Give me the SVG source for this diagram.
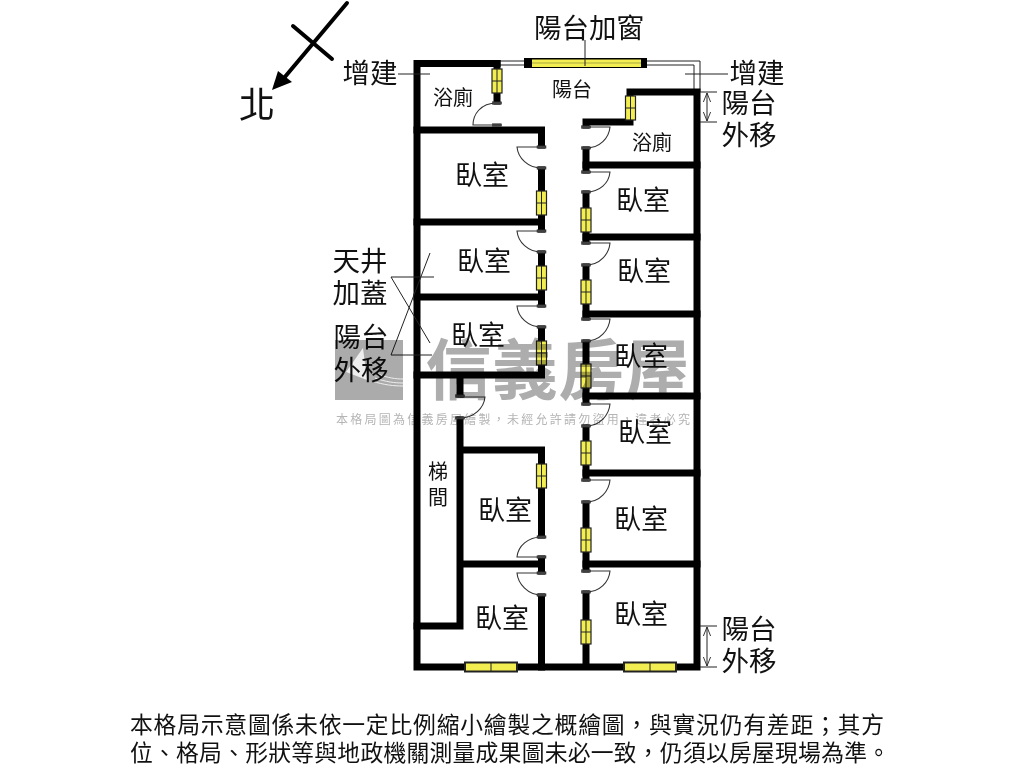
<svg xmlns="http://www.w3.org/2000/svg" width="1024" height="768" viewBox="0 0 1024 768">
<style>
text{font-family:"Noto Sans CJK TC","Liberation Sans",sans-serif;fill:#111;text-anchor:middle}
.w{fill:none;stroke:#000;stroke-width:7;stroke-linecap:square}
.th{fill:none;stroke:#222;stroke-width:1}
.win{fill:#f2ee52;stroke:#222;stroke-width:1.200}
.arc{fill:none;stroke:#333;stroke-width:1.100}
.j{fill:#444;stroke:#222;stroke-width:.5}
.l{font-size:27px}
.s{font-size:20px}
.a{font-size:27.500px}
.wm{mix-blend-mode:multiply}
</style>
<defs>
<g id="vw"><rect class="win" x="-5" y="0" width="10" height="24"/><path class="th" d="M0 0V24M-5 12H5"/></g>
<g id="hw"><rect class="win" style="stroke-width:2" x="0" y="-4.500" width="52" height="9"/><path class="th" d="M26 -4.500V4.500"/></g>
<rect id="jb" class="j" x="-4.500" y="-1.200" width="9" height="2.400"/>
<marker id="oa" viewBox="0 0 10 10" refX="10" refY="5" markerWidth="9" markerHeight="9" orient="auto-start-reverse"><path d="M0 1L10 5L0 9" fill="none" stroke="#222" stroke-width="1"/></marker>
</defs>
<rect width="1024" height="768" fill="#fff"/>
<g id="balcony-rail" class="th">
<path d="M500 61H524M647 61H700V92M500 65H524M647 65H694V92"/>
</g>
<g id="walls">
<path class="w" d="M497 63.500H417V667H697V92H630V122H586V125M586 150V170M586 194V241M586 267V317M586 343V402M586 428V478M586 504V569M586 594V667"/>
<path class="w" d="M497 63.500V101M417 130H541.500V145M541.500 170V229M417 222H541.500M541.500 254V304M417 297H541.500M541.500 329V375H417M460 375V394M460 420V626H417M460 450H541.500V535M460 564H541.500M541.500 559V571M541.500 597V667M586 165H697M586 237H697M586 314H697M586 396H697M586 473H697M586 564H697"/>
</g>
<g id="windows">
<rect x="524" y="58" width="123" height="10" fill="#000"/>
<rect x="532" y="59.500" width="109" height="7.500" fill="#f2ee52"/>
<path class="th" d="M532 63H641" stroke-opacity=".35"/>
<use href="#vw" x="497" y="69"/>
<use href="#vw" x="630.500" y="96"/>
<use href="#vw" x="541.500" y="191"/>
<use href="#vw" x="541.500" y="266"/>
<use href="#vw" x="541.500" y="341"/>
<use href="#vw" x="541.500" y="464"/>
<use href="#vw" x="586" y="208"/>
<use href="#vw" x="586" y="280"/>
<use href="#vw" x="586" y="364"/>
<use href="#vw" x="586" y="441"/>
<use href="#vw" x="586" y="528"/>
<use href="#vw" x="586" y="620"/>
<use href="#hw" x="465" y="667"/>
<use href="#hw" x="624" y="667"/>
</g>
<g id="doors">
<path class="arc" d="M497 103C480 103 473 115 473 125H497"/>
<use href="#jb" x="497" y="103"/><use href="#jb" x="497" y="125"/>
<path class="arc" d="M541.500 147H517C518 158 528 168 541.500 168"/>
<use href="#jb" x="541.500" y="147"/><use href="#jb" x="541.500" y="168"/>
<path class="arc" d="M541.500 231H517C518 242 528 252 541.500 252"/>
<use href="#jb" x="541.500" y="231"/><use href="#jb" x="541.500" y="252"/>
<path class="arc" d="M541.500 306H517C518 317 528 327 541.500 327"/>
<use href="#jb" x="541.500" y="306"/><use href="#jb" x="541.500" y="327"/>
<path class="arc" d="M460 397H485C484 408 474 418 460 418"/>
<use href="#jb" x="460" y="396"/><use href="#jb" x="460" y="418"/>
<path class="arc" d="M541.500 557H517C518 546 528 537 541.500 537"/>
<use href="#jb" x="541.500" y="537"/><use href="#jb" x="541.500" y="557"/>
<path class="arc" d="M541.500 573H517C518 584 528 595 541.500 595"/>
<use href="#jb" x="541.500" y="573"/><use href="#jb" x="541.500" y="595"/>
<path class="arc" d="M586 127H610C609 138 600 148 586 148"/>
<use href="#jb" x="586" y="127"/><use href="#jb" x="586" y="148"/>
<path class="arc" d="M586 172H610C609 183 600 192 586 192"/>
<use href="#jb" x="586" y="172"/><use href="#jb" x="586" y="192"/>
<path class="arc" d="M586 243H610C609 254 600 265 586 265"/>
<use href="#jb" x="586" y="243"/><use href="#jb" x="586" y="265"/>
<path class="arc" d="M586 319H610C609 330 600 341 586 341"/>
<use href="#jb" x="586" y="319"/><use href="#jb" x="586" y="341"/>
<path class="arc" d="M586 404H610C609 415 600 426 586 426"/>
<use href="#jb" x="586" y="404"/><use href="#jb" x="586" y="426"/>
<path class="arc" d="M586 480H610C609 491 600 502 586 502"/>
<use href="#jb" x="586" y="480"/><use href="#jb" x="586" y="502"/>
<path class="arc" d="M586 571H610C609 582 600 592 586 592"/>
<use href="#jb" x="586" y="571"/><use href="#jb" x="586" y="592"/>
</g>
<g id="connectors">
<path class="th" d="M585 40V66M398 74H430M685 74H728M700 92H717M700 122H717M700 626H717M700 667H717"/>
<path class="th" d="M430 253L391 355H432M391 277H434M391 277L430 343"/>
<path class="th" d="M707 93V121" marker-start="url(#oa)" marker-end="url(#oa)"/>
<path class="th" d="M707 627V666" marker-start="url(#oa)" marker-end="url(#oa)"/>
<path d="M293 26L332 59M347 3L284 78" fill="none" stroke="#000" stroke-width="4" stroke-linecap="round"/>
<path d="M272 90L278 71L292 82Z" fill="#000"/>
</g>
<g id="labels">
<text x="589" y="38" font-size="27.500">陽台加窗</text>
<text class="a" x="370" y="83">增建</text>
<text class="a" x="757" y="83">增建</text>
<text class="a" x="749" y="113">陽台</text>
<text class="a" x="749" y="145">外移</text>
<text class="a" x="749" y="639">陽台</text>
<text class="a" x="749" y="671">外移</text>
<text x="257" y="118" font-size="36">北</text>
<text class="a" x="360" y="271">天井</text>
<text class="a" x="360" y="303">加蓋</text>
<text class="a" x="361" y="347">陽台</text>
<text class="a" x="361" y="380">外移</text>
<text class="s" x="453" y="105">浴廁</text>
<text class="s" x="652" y="150">浴廁</text>
<text class="s" x="572" y="97">陽台</text>
<text class="s" x="438" y="479">梯</text>
<text class="s" x="438" y="505">間</text>
<text class="l" x="482" y="185">臥室</text>
<text class="l" x="484" y="271">臥室</text>
<text class="l" x="478" y="345">臥室</text>
<text class="l" x="505" y="520">臥室</text>
<text class="l" x="502" y="628">臥室</text>
<text class="l" x="643" y="210">臥室</text>
<text class="l" x="644" y="281">臥室</text>
<text class="l" x="641" y="366">臥室</text>
<text class="l" x="645" y="442">臥室</text>
<text class="l" x="641" y="529">臥室</text>
<text class="l" x="641" y="624">臥室</text>
<text x="130" y="733" font-size="22.800" style="text-anchor:start" textLength="754">本格局示意圖係未依一定比例縮小繪製之概繪圖&#xFF0C;與實況仍有差距&#xFF1B;其方</text>
<text x="130" y="761" font-size="22.800" style="text-anchor:start" textLength="760">位、格局、形狀等與地政機關測量成果圖未必一致&#xFF0C;仍須以房屋現場為準。</text>
</g>
<g id="watermark" class="wm">
<rect x="335" y="340" width="68" height="60" fill="#ababab"/>
<path d="M346 372L363 348L367 380Z" fill="#eee"/>
<path d="M378 374C388 378 396 379 403 379M375 378C386 382 395 383 403 383M372 381C384 385 394 386 403 386" fill="none" stroke="#eee" stroke-width="1"/>
<text x="558" y="394" font-size="66" font-weight="700" style="fill:#adadad" textLength="265">信義房屋</text>
<text x="513" y="424" font-size="12" style="fill:#b5b5b5" textLength="354">本格局圖為信義房屋繪製&#xFF0C;未經允許請勿盜用&#xFF0C;違者必究</text>
</g>
</svg>
